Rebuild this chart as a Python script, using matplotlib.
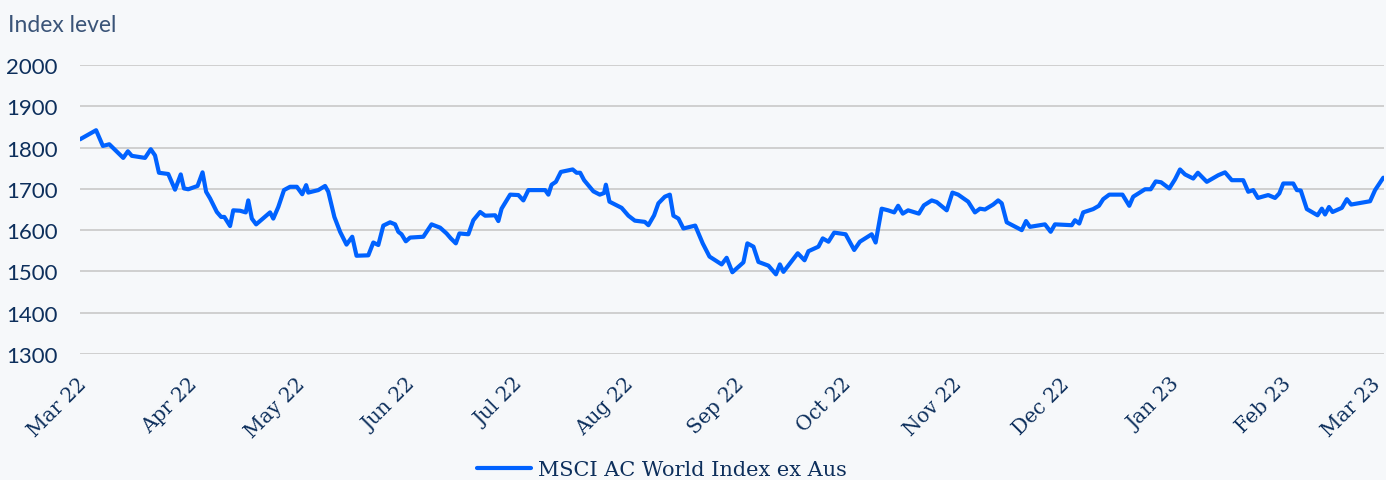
import matplotlib
matplotlib.use("Agg")
import matplotlib.pyplot as plt
import matplotlib.dates as mdates
import matplotlib.transforms as mtransforms
import pandas as pd
import numpy as np

# Data: day offsets from 1 Mar 2022 and index levels
start_date = "2022-03-01"
day_offsets = [0, 4.5, 6.4, 8.2, 12.1, 13.4, 14.5, 18.2, 19.8, 21.0, 22.1, 24.7, 26.6, 28.2, 29.1, 30.3,
               32.9, 34.3, 35.3, 36.4, 38.3, 39.5, 40.4, 42.0, 42.9, 44.8, 46.4, 47.1, 48.1, 49.3, 53.2,
               54.1, 55.5, 57.1, 58.8, 60.7, 62.2, 63.3, 63.9, 66.7, 68.6, 69.5, 71.2, 72.8, 74.6, 76.2,
               77.4, 80.7, 82.1, 83.5, 84.9, 86.8, 88.2, 89.1, 90.0, 91.2, 92.4, 96.1, 98.4, 100.8, 102.6,
               103.8, 105.2, 106.2, 108.7, 110.1, 112.0, 113.4, 116.2, 117.1, 118.0, 120.4, 122.7, 124.1,
               125.5, 130.2, 131.1, 132.0, 133.2, 134.6, 137.9, 139.0, 140.0, 141.1, 143.7, 145.5, 146.7,
               147.2, 148.2, 150.2, 151.6, 153.5, 155.3, 158.1, 159.1, 160.7, 161.9, 163.7, 165.1, 166.1,
               167.5, 168.9, 172.2, 174.3, 176.2, 179.6, 181.0, 182.6, 185.7, 186.8, 188.5, 189.9, 192.7,
               194.8, 195.9, 196.9, 200.9, 202.8, 203.9, 206.7, 207.9, 209.5, 211.1, 214.3, 216.7, 218.3,
               221.6, 222.7, 224.4, 226.2, 227.9, 229.0, 230.3, 231.8, 234.8, 236.2, 238.4, 239.8, 242.6,
               244.2, 245.8, 248.6, 250.5, 251.9, 253.3, 255.6, 257.0, 258.0, 259.4, 263.6, 264.8, 265.9,
               270.1, 271.7, 272.9, 277.6, 278.5, 279.7, 280.8, 283.6, 285.2, 286.4, 288.1, 291.8, 293.7,
               294.8, 298.1, 299.7, 301.1, 302.6, 304.9, 306.5, 307.9, 309.3, 311.6, 312.9, 315.4, 318.6,
               320.5, 322.4, 325.6, 327.0, 328.4, 329.7, 332.6, 334.5, 335.7, 336.8, 339.6, 340.6, 341.7,
               343.4, 346.4, 347.6, 348.5, 349.6, 350.6, 353.2, 354.6, 355.8, 361.1, 362.5, 364.8]
index_values = [1820, 1842, 1804, 1808, 1775, 1791, 1780, 1775, 1796, 1781, 1739, 1736, 1698, 1735, 1701, 1699,
                1707, 1740, 1693, 1677, 1644, 1632, 1632, 1610, 1648, 1647, 1643, 1672, 1628, 1614, 1643,
                1628, 1656, 1697, 1705, 1705, 1687, 1709, 1691, 1697, 1707, 1693, 1632, 1596, 1565, 1584,
                1538, 1539, 1570, 1564, 1611, 1619, 1614, 1596, 1590, 1573, 1582, 1584, 1614, 1606, 1592,
                1580, 1568, 1592, 1590, 1624, 1644, 1635, 1636, 1622, 1652, 1686, 1685, 1672,
                1697, 1697, 1686, 1710, 1717, 1741, 1747, 1739, 1739, 1721, 1694, 1686, 1690,
                1710, 1669, 1660, 1654, 1635, 1623, 1620, 1612, 1636, 1665, 1681, 1686, 1635,
                1628, 1604, 1611, 1568, 1536, 1517, 1533, 1498, 1522, 1568, 1560, 1523, 1514,
                1493, 1517, 1499, 1544, 1527, 1549, 1560, 1580, 1572, 1594, 1590, 1552, 1572,
                1590, 1570, 1652, 1648, 1643, 1659, 1640, 1648, 1640, 1660, 1672, 1668, 1648,
                1691, 1686, 1669, 1643, 1652, 1650, 1662, 1672, 1665, 1619, 1600, 1622, 1608,
                1614, 1596, 1614, 1612, 1624, 1616, 1643, 1651, 1659, 1675, 1686, 1686, 1659,
                1681, 1699, 1699, 1718, 1716, 1701, 1723, 1747, 1735, 1725, 1739, 1717, 1733,
                1740, 1721, 1721, 1693, 1697, 1678, 1685, 1678, 1689, 1713, 1713, 1697, 1696,
                1651, 1636, 1652, 1638, 1656, 1644, 1654, 1675, 1662, 1670, 1697, 1727]
series_name = "MSCI AC World Index ex Aus"
y_ticks = [1300, 1400, 1500, 1600, 1700, 1800, 1900, 2000]
y_title = "Index level"

dates = pd.Timestamp(start_date) + pd.to_timedelta(day_offsets, unit="D")

BG = "#f6f8fa"
NAVY = "#0d2f5c"
BLUE = "#0062ff"

fig = plt.figure(figsize=(13.86, 4.81), dpi=100, facecolor=BG)
ax = fig.add_axes([80 / 1386, 1 - 355 / 481, 1304 / 1386, (355 - 66) / 481])
ax.set_facecolor(BG)

ax.plot(dates, index_values, color=BLUE, lw=3, solid_joinstyle="round", solid_capstyle="round",
        label=series_name, zorder=3)

ax.set_ylim(1300, 2000)
ax.set_yticks(y_ticks)
ax.set_xlim(pd.Timestamp("2022-03-01"), pd.Timestamp("2023-03-01"))
ax.xaxis.set_major_locator(mdates.MonthLocator())
ax.xaxis.set_major_formatter(mdates.DateFormatter("%b %y"))

ax.grid(axis="y", color="#cccccc", lw=1.3, zorder=0)
ax.grid(axis="x", visible=False)
for s in ax.spines.values():
    s.set_visible(False)
ax.tick_params(axis="both", length=0)
ax.tick_params(axis="y", pad=16, labelsize=16, labelcolor=NAVY)
ax.tick_params(axis="x", pad=19, labelsize=14.5, labelcolor=NAVY)
for lab in ax.get_yticklabels():
    lab.set_family("Lato")
xlabels = ax.get_xticklabels()
for i, lab in enumerate(xlabels):
    dx = 4 if i < len(xlabels) - 1 else -6
    shift = mtransforms.ScaledTranslation(dx / 100, 0, fig.dpi_scale_trans)
    lab.set_family("DejaVu Serif")
    lab.set_rotation(45)
    lab.set_ha("right")
    lab.set_va("center")
    lab.set_rotation_mode("anchor")
    lab.set_transform(lab.get_transform() + shift)

fig.text(8 / 1386, 1 - 25 / 481, y_title, fontsize=16.5, color="#3a5478", family="Lato",
         fontweight="normal", va="center", ha="left")

leg = fig.legend(loc="center", bbox_to_anchor=(662 / 1386, 1 - 471 / 481), frameon=False,
                 prop={"family": "DejaVu Serif", "size": 15}, handlelength=2.6, handletextpad=0.35)
for t in leg.get_texts():
    t.set_color(NAVY)

fig.savefig("out.png", dpi=100, facecolor=BG)
